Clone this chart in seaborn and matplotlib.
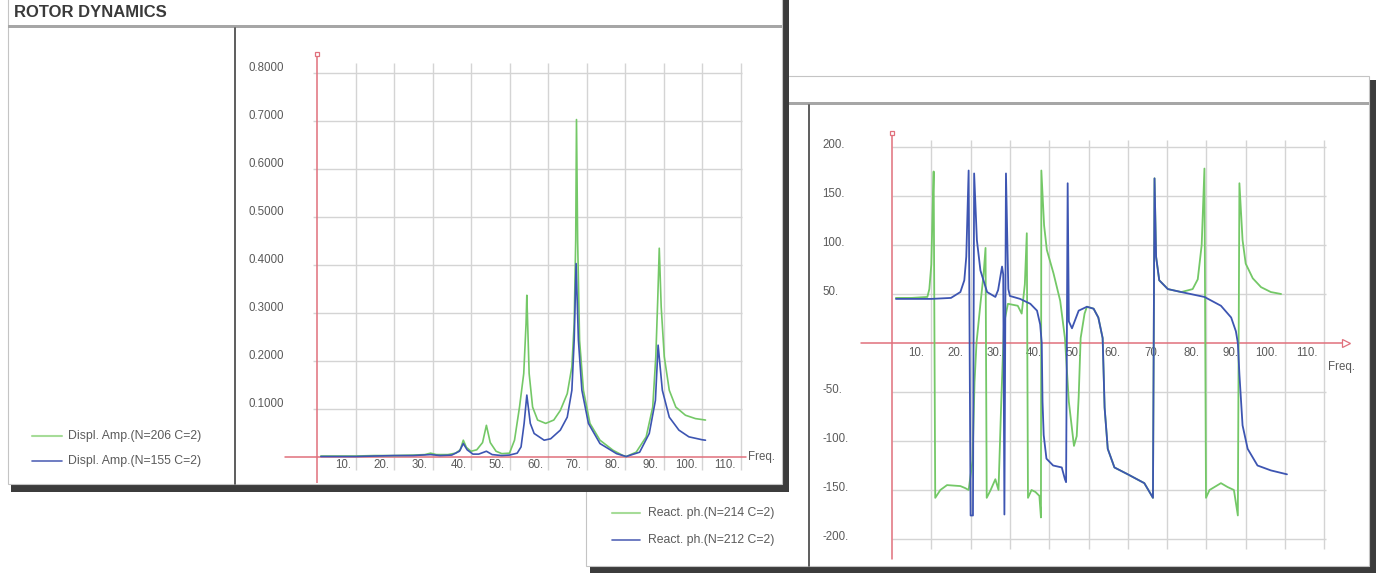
import numpy as np
import pandas as pd
import matplotlib
matplotlib.use("Agg")
import matplotlib.pyplot as plt
import seaborn as sns
from matplotlib.patches import Rectangle

sns.set_theme(style="white")
plt.rcParams['font.family'] = ['Liberation Sans', 'DejaVu Sans']

# ---------------- data: displacement amplitude (left window) ----------------
amp_green_x = [1, 5, 10, 15, 20, 25, 28, 29.5, 31, 34, 36, 37.2, 38, 38.8, 40, 41.5, 43, 44, 45, 46.5,
               48, 50, 51.3, 52.6, 53.7, 54.3, 54.5, 55.1, 56, 57.3, 59.4, 61.5, 63.2, 65, 66.2, 66.8,
               67.2, 67.4, 67.7, 68.2, 69.2, 70.9, 73.5, 76.9, 79.5, 80.3, 82.9, 85.5, 87.2, 88, 88.5,
               88.9, 89.4, 90.2, 91.5, 93.2, 95.7, 98.3, 100.9]
amp_green_y = [0.002, 0.002, 0.002, 0.003, 0.003, 0.004, 0.005, 0.008, 0.005, 0.005, 0.008, 0.015, 0.035,
               0.02, 0.012, 0.015, 0.03, 0.066, 0.03, 0.012, 0.007, 0.008, 0.035, 0.104, 0.174, 0.278, 0.337,
               0.174, 0.104, 0.077, 0.07, 0.077, 0.097, 0.132, 0.188, 0.278, 0.452, 0.703, 0.45, 0.243, 0.139,
               0.07, 0.035, 0.014, 0.003, 0.001, 0.01, 0.042, 0.104, 0.209, 0.327, 0.435, 0.313, 0.209, 0.139,
               0.104, 0.087, 0.08, 0.077]
amp_blue_x = [1, 5, 10, 15, 20, 25, 29.5, 32, 35, 37, 38, 39, 40.5, 42, 44, 45.5, 48, 50, 52, 53, 53.8,
              54.5, 55.4, 56.4, 59, 60.7, 63.2, 65, 66.2, 66.8, 67.3, 67.9, 68.8, 70.5, 73.5, 77.8, 80.3,
              83.8, 86.3, 87.9, 88.6, 89.7, 91.5, 94, 96.6, 100, 100.9]
amp_blue_y = [0.001, 0.001, 0.001, 0.002, 0.003, 0.003, 0.005, 0.003, 0.004, 0.012, 0.028, 0.015, 0.006,
              0.006, 0.012, 0.005, 0.003, 0.004, 0.008, 0.021, 0.07, 0.129, 0.07, 0.049, 0.035, 0.038, 0.056,
              0.083, 0.139, 0.243, 0.403, 0.243, 0.139, 0.07, 0.028, 0.007, 0.001, 0.01, 0.049, 0.118, 0.233,
              0.139, 0.083, 0.056, 0.042, 0.036, 0.035]
amp_labels = ["Displ. Amp.(N=206 C=2)", "Displ. Amp.(N=155 C=2)"]
amp_yticks = [0.1, 0.2, 0.3, 0.4, 0.5, 0.6, 0.7, 0.8]

# ---------------- data: reaction phase (right window) ----------------
ph_green_x = [1, 5, 9, 9.5, 10, 10.3, 10.6, 11.0, 12.3, 14, 17.4, 18.6, 19.5, 20.5, 21.0, 21.5, 22.5,
              23.3, 23.8, 24.1, 25.1, 26.3, 27.1, 27.8, 28.5, 29.5, 32, 33, 33.8, 34.3, 34.6, 35.5,
              36.5, 37.5, 37.9, 38.0, 38.7, 39.4, 41.1, 42.8, 44, 45, 46.3, 47, 47.5, 48, 49, 49.6, 51.3,
              52.5, 53.6, 54.1, 54.9, 56.6, 60, 64.2, 66.4, 66.8, 67.2, 68, 70.2, 73.6, 76.5, 77.8, 78.8,
              79.5, 79.9, 80.8, 83.7, 85.4, 87, 88, 88.4, 89.2, 90, 91.8, 93.9, 96.4, 99]
ph_green_y = [46, 46, 47, 55, 80, 130, 175, -158, -150, -145, -146, -148, -150, -120, -40, 0, 40,
              70, 97, -158, -150, -139, -150, -60, 20, 40, 38, 30, 60, 112, -158, -150,
              -152, -156, -178, 176, 120, 95, 71, 43, 5, -60, -105, -95, -55, 5, 30, 37, 35,
              26, 5, -66, -108, -127, -134, -143, -158, 168, 88, 64, 55, 52, 55, 65, 100,
              178, -158, -150, -143, -147, -150, -176, 163, 105, 81, 66, 57, 52, 50]
ph_blue_x = [1, 5, 10, 15, 17.4, 18.4, 18.9, 19.5, 20.0, 20.6, 20.9, 21.6, 22.5, 24.2, 26.3, 27.0, 28.0,
             28.3, 28.6, 29.0, 29.6, 30.0, 32.6, 35.2, 36.9, 37.7, 38.1, 38.3, 38.6, 39.3, 41, 43.2, 44.0,
             44.3, 44.7, 45.0, 45.8, 47.5, 49.6, 51.3, 52.5, 53.6, 54.1, 54.9, 56.6, 60, 64.2, 66.4, 66.8,
             67.2, 68.0, 70.2, 73.6, 79.5, 83.7, 86.3, 87.5, 88.0, 88.4, 89.2, 90.5, 93, 96.4, 100.5]
ph_blue_y = [45, 45, 45, 46, 52, 64, 88, 176, -176, -176, 173, 105, 74, 52, 47, 54, 78,
             70, -175, 173, 55, 48, 45, 40, 33, 19, 0, -60, -94, -118, -125, -127, -139,
             -142, 163, 22, 15, 33, 37, 35, 26, 5, -66, -108, -127, -134, -143, -158, 168,
             88, 64, 55, 52, 47, 38, 26, 12, 0, -32, -84, -108, -125, -130, -134]
ph_labels = ["React. ph.(N=214 C=2)", "React. ph.(N=212 C=2)"]
ph_yticks = [200, 150, 100, 50, -50, -100, -150, -200]

freq_ticks = [10, 20, 30, 40, 50, 60, 70, 80, 90, 100, 110]

GREEN = "#74c867"
BLUE = "#3d55b2"
RED = "#e0707c"
GRID = "#d4d4d4"
TXT = "#5a5a5a"
FS_TICK = 8.3
FS_LEG = 8.8

W, H = 1382, 574
fig = plt.figure(figsize=(W / 100, H / 100), dpi=100)
fig.patch.set_facecolor("white")
bg = fig.add_axes([0, 0, 1, 1])
bg.set_xlim(0, W)
bg.set_ylim(H, 0)
bg.axis("off")

# ---------- right window (behind) ----------
bg.add_patch(Rectangle((590, 80), 786, 493, facecolor="#3c3c3c", edgecolor="none", zorder=1))
bg.add_patch(Rectangle((586, 76), 783, 490, facecolor="white", edgecolor="#c4c4c4", lw=0.8, zorder=2))
bg.add_patch(Rectangle((586, 102), 783, 3, facecolor="#a6a6a6", edgecolor="none", zorder=3))
bg.plot([809, 809], [105, 566], color="#505050", lw=1.3, zorder=3)
# right legend
bg.plot([612, 640], [513, 513], color="#a6dc98", lw=1.5, zorder=3)
bg.plot([612, 640], [540, 540], color="#5566b8", lw=1.2, zorder=3)
bg.text(648, 513, ph_labels[0], fontsize=FS_LEG, color=TXT, va="center", ha="left", zorder=3)
bg.text(648, 540, ph_labels[1], fontsize=FS_LEG, color=TXT, va="center", ha="left", zorder=3)

# ---------- left window (front) ----------
bg.add_patch(Rectangle((11, -5), 778, 497, facecolor="#3c3c3c", edgecolor="none", zorder=5))
bg.add_patch(Rectangle((8, -5), 774, 489, facecolor="white", edgecolor="#c4c4c4", lw=0.8, zorder=6))
bg.add_patch(Rectangle((8, 25), 774, 3, facecolor="#a6a6a6", edgecolor="none", zorder=7))
bg.plot([235, 235], [28, 484], color="#505050", lw=1.3, zorder=7)
bg.text(14, 12.5, "ROTOR DYNAMICS", fontsize=12, fontweight="bold", color="#3a3a3a",
        va="center", ha="left", zorder=7)
bg.plot([32, 62], [436, 436], color="#a6dc98", lw=1.5, zorder=7)
bg.plot([32, 62], [461, 461], color="#5566b8", lw=1.2, zorder=7)
bg.text(68, 436, amp_labels[0], fontsize=FS_LEG, color=TXT, va="center", ha="left", zorder=7)
bg.text(68, 461, amp_labels[1], fontsize=FS_LEG, color=TXT, va="center", ha="left", zorder=7)


def chart_axes(L, R, T, B, x0px, sx, y0px, sy):
    ax = fig.add_axes([L / W, 1 - B / H, (R - L) / W, (B - T) / H])
    ax.set_xlim((L - x0px) / sx, (R - x0px) / sx)
    ax.set_ylim((y0px - B) / sy, (y0px - T) / sy)
    ax.axis("off")
    ax.patch.set_alpha(0)
    return ax


# ---------- left chart ----------
axL = chart_axes(240, 780, 35, 483, 317, 3.85, 457, 480)
axL.set_zorder(2)
axL.hlines(amp_yticks, -1, 110.5, color=GRID, lw=1, zorder=1)
axL.vlines(freq_ticks, -0.027, 0.82, color=GRID, lw=1, zorder=1)
axL.plot([-8.3, 111.5], [0, 0], color=RED, lw=1.1, zorder=2)
axL.plot([0, 0], [-0.06, 0.84], color=RED, lw=1.1, zorder=2)
axL.plot([0], [0.84], marker="s", ms=3.5, mfc="white", mec=RED, mew=0.9, zorder=3)
dfa = pd.DataFrame({"x": amp_green_x + amp_blue_x,
                    "y": amp_green_y + amp_blue_y,
                    "s": [amp_labels[0]] * len(amp_green_x) + [amp_labels[1]] * len(amp_blue_x)})
sns.lineplot(data=dfa, x="x", y="y", hue="s", palette=[GREEN, BLUE], estimator=None, sort=False,
             lw=1.2, legend=False, ax=axL, zorder=4)
for v in amp_yticks:
    axL.text(-17.9, v + 0.01, f"{v:.4f}", fontsize=FS_TICK, color=TXT, ha="left", va="center")
for t in freq_ticks:
    axL.text(t - 1.2, -0.017, f"{t}.", fontsize=FS_TICK, color=TXT, ha="right", va="center")
axL.text(112, 0.0, "Freq.", fontsize=FS_TICK, color=TXT, ha="left", va="center")
axL.set_xlim((240 - 317) / 3.85, (780 - 317) / 3.85)
axL.set_ylim((457 - 483) / 480, (457 - 35) / 480)
axL.axis("off")

# ---------- right chart ----------
axR = chart_axes(815, 1365, 110, 562, 892, 3.93, 343, 0.98)
axR.set_zorder(2)
axR.hlines(ph_yticks, 0, 110.5, color=GRID, lw=1, zorder=1)
axR.vlines(freq_ticks, -210, 207, color=GRID, lw=1, zorder=1)
axR.plot([-8, 114.5], [0, 0], color=RED, lw=1.1, zorder=2)
axR.plot([115.6], [0], marker=">", ms=5.5, mfc="white", mec=RED, mew=0.9, zorder=3)
axR.plot([0, 0], [-220, 214], color=RED, lw=1.1, zorder=2)
axR.plot([0], [214], marker="s", ms=3.5, mfc="white", mec=RED, mew=0.9, zorder=3)
dfp = pd.DataFrame({"x": ph_green_x + ph_blue_x,
                    "y": ph_green_y + ph_blue_y,
                    "s": [ph_labels[0]] * len(ph_green_x) + [ph_labels[1]] * len(ph_blue_x)})
sns.lineplot(data=dfp, x="x", y="y", hue="s", palette=[GREEN, BLUE], estimator=None, sort=False,
             lw=1.3, legend=False, ax=axR, zorder=4)
for v in ph_yticks:
    axR.text(-17.8, v + 2, f"{v}.", fontsize=FS_TICK, color=TXT, ha="left", va="center")
for t in freq_ticks:
    axR.text(t - 1.8, -10, f"{t}.", fontsize=FS_TICK, color=TXT, ha="right", va="center")
axR.text(111.0, -24, "Freq.", fontsize=FS_TICK, color=TXT, ha="left", va="center")
axR.set_xlim((815 - 892) / 3.93, (1365 - 892) / 3.93)
axR.set_ylim((343 - 562) / 0.98, (343 - 110) / 0.98)
axR.axis("off")

fig.savefig("out.png", dpi=100, facecolor="white")
